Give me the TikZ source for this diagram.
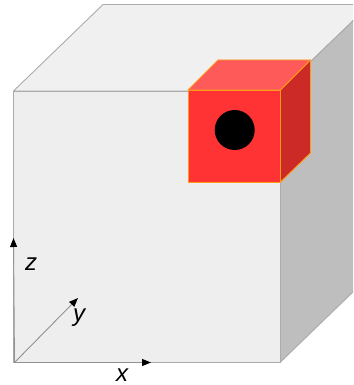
\documentclass[tikz,border=0pt]{standalone}
\usepackage{fontspec}
\setmainfont{Liberation Sans}
\usetikzlibrary{arrows.meta}
\definecolor{frontgray}{HTML}{EEEEEE}
\definecolor{topgray}{HTML}{F0F0F0}
\definecolor{sidegray}{HTML}{BEBEBE}
\definecolor{edgegray}{HTML}{ABABAB}
\definecolor{redfront}{HTML}{FF3333}
\definecolor{redtop}{HTML}{FF5A5A}
\definecolor{redside}{HTML}{CC2A26}
\definecolor{edgeorange}{HTML}{FF9A1A}
\tikzset{
  x=1pt,y=-1pt,
  bigface/.style={draw=edgegray,line width=0.9pt,line join=round},
  redface/.style={draw=edgeorange,line width=0.9pt,line join=round},
  axisline/.style={draw=edgegray!85!black,line width=0.9pt,-{Triangle[black,length=9pt,width=7pt]}},
  axislabel/.style={font=\itshape\fontsize{24}{26}\selectfont,text=black,inner sep=0pt,anchor=center}
}
\begin{document}
\begin{tikzpicture}
\useasboundingbox (0,0) rectangle (353,385);
\begin{scope}
\clip (0,0) rectangle (353,385);
\filldraw[bigface,fill=topgray] (13.5,91) -- (103,4.5) -- (370,4.5) -- (280,91) -- cycle;
\filldraw[bigface,fill=sidegray] (280,91) -- (370,4.5) -- (370,275.5) -- (280,362.5) -- cycle;
\filldraw[bigface,fill=frontgray] (13.5,91) rectangle (280,362.5);
\end{scope}
\filldraw[redface,fill=redtop] (188,90) -- (218,60) -- (310.5,60) -- (280.5,90) -- cycle;
\filldraw[redface,fill=redside] (280.5,90) -- (310.5,60) -- (310.5,153) -- (280.5,182) -- cycle;
\filldraw[redface,fill=redfront] (188,90) rectangle (280.5,182);
\node[circle,fill=black,minimum size=40pt,inner sep=0pt] (hole) at (234.7,130) {};
\coordinate (o) at (14.5,362.5);
\coordinate (xend) at (151,362.5);
\coordinate (yend) at (78,298);
\coordinate (zend) at (13.5,238);
\draw[axisline] (o) -- (xend);
\draw[axisline] (o) -- (yend);
\draw[axisline] (o) -- (zend);
\node[axislabel] (xlab) at (122,375.5) {x};
\node[axislabel] (ylab) at (79,318) {y};
\node[axislabel] (zlab) at (31,264.5) {z};
\end{tikzpicture}
\end{document}
